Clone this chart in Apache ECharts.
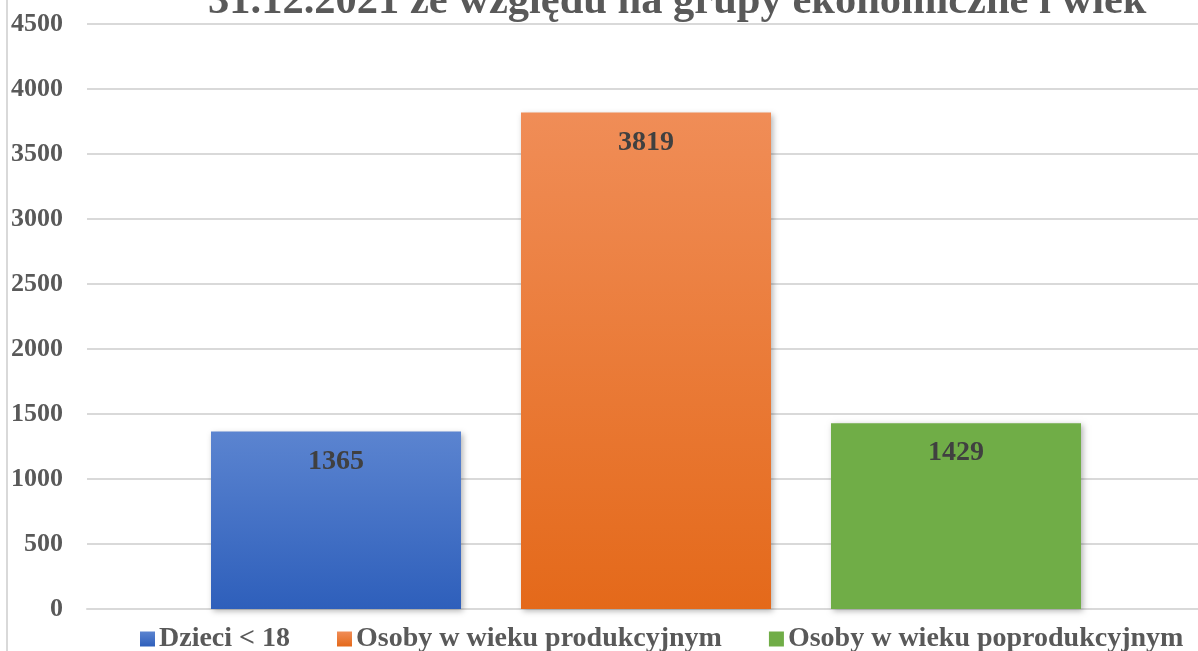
<!DOCTYPE html>
<html>
<head>
<meta charset="utf-8">
<script src="https://cdn.jsdelivr.net/npm/echarts@6/dist/echarts.min.js"></script>
<style>
    html, body { margin: 0; padding: 0; background: #fff; }
    #main { width: 1198px; height: 651px; }
</style>
</head>
<body>
<div id="main"></div>
<script>
var titleText = '31.12.2021 ze względu na grupy ekonomiczne i wiek';
var categories = [''];
var seriesNames = ['Dzieci < 18', 'Osoby w wieku produkcyjnym', 'Osoby w wieku poprodukcyjnym'];
var dzieci = [1365];
var produkcyjny = [3819];
var poprodukcyjny = [1429];
var yTicks = [0, 500, 1000, 1500, 2000, 2500, 3000, 3500, 4000, 4500];

var serif = '"Liberation Serif", "Times New Roman", serif';

function grad(top, bottom) {
    return new echarts.graphic.LinearGradient(0, 0, 0, 1, [
        { offset: 0, color: top },
        { offset: 1, color: bottom }
    ]);
}

function barSeries(name, data, color) {
    return {
        name: name,
        type: 'bar',
        barWidth: 250,
        barGap: '24%',
        data: data,
        itemStyle: {
            color: color,
            shadowBlur: 6,
            shadowColor: 'rgba(0,0,0,0.3)',
            shadowOffsetX: 2,
            shadowOffsetY: 2
        },
        label: {
            show: true,
            position: 'insideTop',
            distance: 16,
            color: '#404040',
            fontFamily: serif,
            fontWeight: 'bold',
            fontSize: 28
        }
    };
}

var myChart = echarts.init(document.getElementById('main'));
var option = {
    animation: false,
    backgroundColor: '#fff',
    title: {
        text: titleText,
        left: 203,
        top: -24,
        textStyle: {
            fontFamily: serif,
            fontWeight: 'bold',
            fontSize: 42.5,
            color: '#595959'
        }
    },
    legend: {
        top: 620,
        left: 135,
        itemWidth: 15,
        itemHeight: 15,
        itemGap: 47,
        icon: 'rect',
        textStyle: {
            fontFamily: serif,
            fontWeight: 'bold',
            fontSize: 28,
            color: '#595959',
            padding: [0, 0, 0, -1]
        },
        data: seriesNames
    },
    graphic: [{
        type: 'line',
        shape: { x1: 7, y1: 0, x2: 7, y2: 651 },
        style: { stroke: '#d9d9d9', lineWidth: 2 }
    }],
    grid: {
        left: 87,
        right: -7,
        top: 24,
        bottom: 42,
        containLabel: false,
        outerBoundsMode: 'none'
    },
    xAxis: {
        type: 'category',
        data: categories,
        axisLine: { show: true, lineStyle: { color: '#d9d9d9', width: 2 } },
        axisTick: { show: false },
        axisLabel: { show: false }
    },
    yAxis: {
        type: 'value',
        min: yTicks[0],
        max: yTicks[yTicks.length - 1],
        interval: 500,
        axisLine: { show: false },
        axisTick: { show: false },
        axisLabel: {
            margin: 24,
            fontFamily: serif,
            fontWeight: 'bold',
            fontSize: 26,
            color: '#595959',
            formatter: function(v) {
                return String(v);
            }
        },
        splitLine: { lineStyle: { color: '#d9d9d9', width: 2 } }
    },
    series: [
        barSeries(seriesNames[0], dzieci, grad('#5b84d0', '#2e5fbb')),
        barSeries(seriesNames[1], produkcyjny, grad('#f08d57', '#e4691a')),
        barSeries(seriesNames[2], poprodukcyjny, '#70ad47')
    ]
};
myChart.setOption(option);
</script>
</body>
</html>
